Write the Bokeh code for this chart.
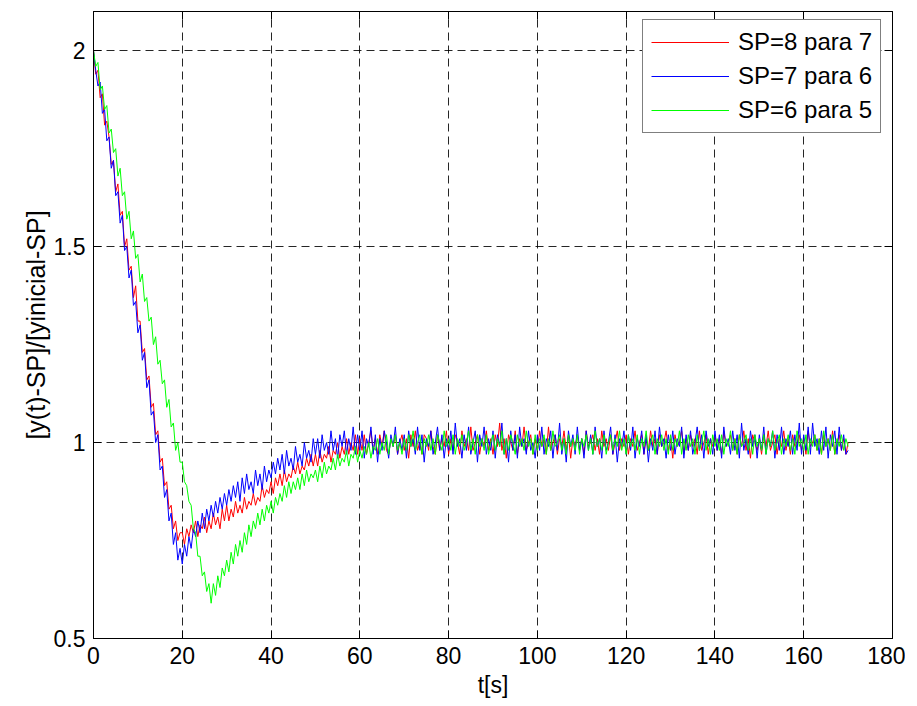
from bokeh.plotting import figure
from bokeh.models import Range1d, FixedTicker, LinearAxis, Legend, LegendItem
from bokeh.embed import file_html
from bokeh.resources import INLINE

# time axis [s], sampled every 0.5 s from 0 to 170
t = [i * 0.5 for i in range(341)]

# SP=8 para 7 (red) -- 20 samples per row (10 s)
sp8_7 = [
    2.00, 1.94, 1.95, 1.88, 1.89, 1.81, 1.82, 1.78, 1.71, 1.72, 1.64, 1.66, 1.58, 1.59, 1.50, 1.52, 1.44, 1.45, 1.37, 1.40,
    1.31, 1.31, 1.23, 1.24, 1.16, 1.17, 1.09, 1.10, 1.02, 1.03, 0.95, 0.96, 0.89, 0.90, 0.83, 0.84, 0.78, 0.80, 0.75, 0.77,
    0.77, 0.74, 0.78, 0.76, 0.79, 0.77, 0.80, 0.76, 0.79, 0.78, 0.81, 0.77, 0.80, 0.78, 0.82, 0.79, 0.81, 0.78, 0.83, 0.80,
    0.84, 0.80, 0.83, 0.81, 0.85, 0.82, 0.84, 0.82, 0.86, 0.83, 0.85, 0.84, 0.87, 0.84, 0.86, 0.85, 0.89, 0.86, 0.88, 0.87,
    0.90, 0.87, 0.91, 0.89, 0.92, 0.89, 0.93, 0.90, 0.92, 0.91, 0.94, 0.92, 0.95, 0.92, 0.94, 0.93, 0.96, 0.94, 0.97, 0.94,
    0.97, 0.94, 0.98, 0.95, 0.97, 0.96, 0.99, 0.95, 0.98, 0.97, 1.00, 0.96, 0.99, 0.97, 1.01, 0.97, 1.00, 0.98, 1.02, 0.97,
    1.01, 0.98, 1.02, 0.97, 1.00, 1.03, 0.98, 1.01, 0.97, 1.02, 0.99, 1.03, 0.98, 0.97, 1.01, 0.99, 1.02, 0.97, 1.00, 1.02,
    0.98, 1.01, 0.96, 1.02, 0.99, 1.03, 0.98, 1.00, 0.97, 1.02, 1.01, 0.98, 1.03, 0.99, 0.97, 1.02, 0.98, 1.01, 0.99, 1.03,
    0.97, 1.01, 0.98, 1.02, 1.00, 0.97, 1.03, 0.99, 1.01, 0.98, 1.04, 0.98, 1.00, 1.02, 0.97, 1.01, 0.99, 1.03, 0.98, 1.01,
    0.97, 1.02, 0.99, 1.05, 0.98, 1.01, 0.96, 1.02, 1.00, 0.98, 1.03, 0.97, 1.01, 0.99, 1.04, 0.98, 1.00, 1.02, 0.97, 1.01,
    0.98, 1.03, 0.99, 1.01, 0.97, 1.04, 0.98, 1.00, 1.02, 0.97, 1.01, 0.99, 1.03, 0.98, 1.02, 0.96, 1.01, 0.99, 1.02, 0.98,
    1.01, 0.97, 1.03, 0.99, 1.00, 1.02, 0.98, 1.01, 0.97, 1.03, 0.99, 1.01, 0.98, 1.02, 0.97, 1.00, 1.03, 0.98, 1.01, 0.99,
    1.02, 0.97, 1.01, 0.99, 1.03, 0.98, 1.00, 1.02, 0.97, 1.01, 0.98, 1.03, 0.99, 1.01, 0.97, 1.02, 0.99, 1.00, 1.03, 0.98,
    1.01, 0.96, 1.02, 0.99, 1.00, 1.03, 0.97, 1.01, 0.98, 1.02, 0.99, 1.01, 0.97, 1.03, 0.98, 1.00, 1.02, 0.97, 1.01, 0.99,
    1.02, 0.98, 1.01, 0.97, 1.03, 0.99, 1.00, 1.02, 0.98, 1.01, 0.97, 1.02, 0.99, 1.03, 0.98, 1.01, 0.96, 1.02, 1.00, 0.98,
    1.01, 0.97, 1.02, 0.99, 1.03, 0.98, 1.00, 1.02, 0.97, 1.01, 0.99, 1.03, 0.98, 1.01, 0.97, 1.02, 0.99, 1.00, 1.02, 0.98,
    1.01, 0.97, 1.03, 0.99, 1.00, 1.02, 0.98, 1.01, 0.97, 1.02, 0.99, 1.01, 0.98, 1.03, 0.97, 1.00, 1.02, 0.98, 1.01, 0.97,
    1.00,
]

# SP=7 para 6 (blue)
sp7_6 = [
    2.00, 1.95, 1.91, 1.92, 1.84, 1.85, 1.77, 1.78, 1.70, 1.72, 1.63, 1.64, 1.56, 1.58, 1.49, 1.50, 1.42, 1.44, 1.35, 1.36,
    1.28, 1.30, 1.21, 1.23, 1.14, 1.16, 1.07, 1.08, 1.00, 1.02, 0.93, 0.94, 0.86, 0.88, 0.80, 0.82, 0.74, 0.77, 0.70, 0.73,
    0.69, 0.74, 0.71, 0.76, 0.73, 0.78, 0.76, 0.80, 0.77, 0.82, 0.78, 0.83, 0.80, 0.84, 0.81, 0.85, 0.82, 0.86, 0.83, 0.87,
    0.84, 0.88, 0.85, 0.89, 0.86, 0.90, 0.85, 0.91, 0.87, 0.92, 0.88, 0.90, 0.87, 0.93, 0.89, 0.92, 0.88, 0.94, 0.90, 0.93,
    0.91, 0.95, 0.92, 0.96, 0.93, 0.97, 0.92, 0.98, 0.94, 0.96, 0.93, 0.99, 0.95, 0.97, 0.94, 1.00, 0.96, 0.98, 0.95, 1.01,
    0.97, 1.01, 0.96, 1.02, 0.98, 1.00, 0.97, 1.03, 0.98, 1.01, 0.96, 1.02, 0.99, 1.03, 0.97, 1.01, 0.98, 1.04, 0.97, 1.02,
    0.98, 1.03, 0.96, 1.01, 0.99, 1.04, 0.97, 1.02, 0.95, 1.01, 0.98, 1.03, 1.00, 0.96, 1.02, 0.99, 1.04, 0.97, 1.01, 0.98,
    1.02, 0.96, 1.03, 0.99, 1.01, 0.97, 1.04, 0.98, 1.02, 0.95, 1.01, 0.99, 1.03, 0.97, 1.00, 1.04, 0.98, 1.02, 0.96, 1.01,
    0.98, 1.03, 0.97, 1.05, 0.99, 1.01, 0.96, 1.02, 0.98, 1.04, 0.97, 1.00, 1.03, 0.95, 1.02, 0.99, 1.04, 0.97, 1.01, 0.98,
    1.03, 0.96, 1.02, 0.99, 1.05, 0.97, 1.01, 0.95, 1.03, 0.98, 1.02, 0.96, 1.04, 0.99, 1.01, 0.97, 1.03, 0.98, 1.00, 0.96,
    1.02, 0.98, 1.04, 0.97, 1.01, 0.99, 1.03, 0.96, 1.02, 0.98, 1.05, 0.97, 1.01, 0.95, 1.03, 0.99, 1.02, 0.97, 1.04, 0.98,
    1.01, 0.96, 1.03, 0.98, 1.02, 0.97, 1.04, 0.99, 1.01, 0.96, 1.03, 0.98, 1.00, 1.04, 0.97, 1.02, 0.95, 1.01, 0.99, 1.03,
    0.97, 1.02, 0.98, 1.04, 0.96, 1.01, 0.99, 1.03, 0.97, 1.02, 0.95, 1.01, 0.98, 1.03, 0.97, 1.04, 0.99, 1.01, 0.96, 1.02,
    0.98, 1.03, 0.97, 1.01, 0.99, 1.04, 0.96, 1.02, 0.98, 1.03, 0.97, 1.00, 1.04, 0.98, 1.02, 0.96, 1.03, 0.99, 1.01, 0.97,
    1.03, 0.98, 1.02, 0.96, 1.04, 0.99, 1.01, 0.97, 1.03, 0.98, 1.02, 0.96, 1.05, 0.98, 1.01, 0.97, 1.03, 0.99, 1.02, 0.96,
    1.02, 0.98, 1.04, 0.97, 1.01, 0.99, 1.03, 0.96, 1.02, 0.98, 1.04, 0.97, 1.01, 0.99, 1.03, 0.97, 1.02, 0.98, 1.05, 0.97,
    1.02, 0.98, 1.04, 0.97, 1.05, 0.99, 1.01, 0.97, 1.03, 0.98, 1.04, 0.96, 1.02, 0.99, 1.03, 0.97, 1.04, 0.98, 1.02, 0.97,
    0.98,
]

# SP=6 para 5 (green)
sp6_5 = [
    2.00, 1.96, 1.97, 1.90, 1.91, 1.85, 1.86, 1.79, 1.80, 1.74, 1.75, 1.68, 1.70, 1.63, 1.64, 1.57, 1.59, 1.52, 1.54, 1.47,
    1.48, 1.41, 1.43, 1.36, 1.37, 1.31, 1.32, 1.25, 1.27, 1.20, 1.21, 1.15, 1.16, 1.09, 1.11, 1.04, 1.05, 0.98, 1.00, 0.95,
    0.95, 0.90, 0.89, 0.85, 0.84, 0.78, 0.77, 0.71, 0.71, 0.66, 0.67, 0.62, 0.64, 0.59, 0.64, 0.61, 0.66, 0.63, 0.68, 0.66,
    0.70, 0.67, 0.72, 0.69, 0.74, 0.71, 0.75, 0.72, 0.77, 0.74, 0.79, 0.76, 0.80, 0.78, 0.82, 0.79, 0.83, 0.80, 0.84, 0.82,
    0.85, 0.82, 0.86, 0.84, 0.87, 0.85, 0.89, 0.86, 0.90, 0.87, 0.90, 0.88, 0.91, 0.88, 0.92, 0.89, 0.93, 0.90, 0.92, 0.91,
    0.93, 0.90, 0.94, 0.91, 0.95, 0.92, 0.94, 0.93, 0.96, 0.93, 0.97, 0.94, 0.96, 0.95, 0.98, 0.94, 0.97, 0.96, 0.99, 0.95,
    0.98, 0.96, 0.99, 0.97, 1.00, 0.96, 0.99, 0.98, 1.01, 0.97, 1.00, 0.98, 1.02, 0.97, 1.01, 0.99, 1.02, 0.98, 1.00, 0.97,
    1.01, 0.98, 1.02, 0.99, 1.03, 0.98, 1.00, 1.02, 0.97, 1.01, 0.99, 1.02, 0.98, 1.01, 0.97, 1.02, 1.00, 0.98, 1.03, 0.99,
    1.01, 0.98, 1.02, 0.97, 1.01, 0.99, 1.02, 0.98, 1.00, 1.03, 0.98, 1.01, 0.97, 1.02, 0.99, 1.01, 0.98, 1.02, 0.97, 1.00,
    1.02, 0.98, 1.01, 0.99, 1.03, 0.97, 1.01, 0.98, 1.02, 1.00, 0.97, 1.02, 0.99, 1.01, 0.98, 1.03, 0.99, 1.01, 0.97, 1.02,
    0.98, 1.01, 0.99, 1.02, 0.97, 1.01, 0.98, 1.03, 0.99, 1.00, 1.02, 0.98, 1.01, 0.97, 1.02, 0.99, 1.01, 0.98, 1.02, 0.97,
    1.01, 0.99, 1.02, 0.98, 1.01, 0.97, 1.03, 0.99, 1.01, 0.98, 1.02, 0.97, 1.00, 1.02, 0.98, 1.01, 0.99, 1.03, 0.98, 1.01,
    0.97, 1.02, 0.99, 1.01, 0.98, 1.02, 0.97, 1.01, 0.99, 1.03, 0.98, 1.00, 1.02, 0.97, 1.01, 0.99, 1.02, 0.98, 1.01, 0.97,
    1.02, 0.98, 1.01, 0.99, 1.03, 0.97, 1.01, 0.98, 1.02, 0.99, 1.01, 0.97, 1.02, 0.98, 1.00, 1.03, 0.98, 1.01, 0.97, 1.02,
    0.99, 1.01, 0.98, 1.02, 0.97, 1.01, 0.99, 1.03, 0.98, 1.01, 0.97, 1.02, 0.99, 1.00, 1.02, 0.98, 1.01, 0.97, 1.02, 0.99,
    1.01, 0.98, 1.02, 0.97, 1.01, 0.99, 1.03, 0.98, 1.00, 1.02, 0.97, 1.01, 0.99, 1.02, 0.98, 1.01, 0.97, 1.03, 0.99, 1.01,
    0.98, 1.02, 0.97, 1.01, 0.99, 1.02, 0.98, 1.01, 0.97, 1.03, 0.99, 1.01, 0.98, 1.02, 0.97, 1.01, 0.99, 1.02, 0.98, 1.01,
    0.99,
]

series_labels = ["SP=8 para 7", "SP=7 para 6", "SP=6 para 5"]
series_colors = ["#FF0000", "#0000FF", "#00FF00"]
x_ticks = [0, 20, 40, 60, 80, 100, 120, 140, 160, 180]
y_ticks = [0.5, 1.0, 1.5, 2.0]

FONT = "Liberation Sans"

p = figure(
    width=905, height=700,
    x_range=Range1d(0, 180), y_range=Range1d(0.5, 2.1),
    output_backend="svg", toolbar_location=None,
    min_border_left=93, min_border_right=13,
    min_border_top=11, min_border_bottom=60,
    background_fill_color="white", border_fill_color="white",
)
p.outline_line_color = "black"
p.outline_line_width = 1

renderers = []
for ys, col in zip([sp8_7, sp7_6, sp6_5], series_colors):
    r = p.line(t, ys, line_color=col, line_width=1)
    renderers.append(r)

def style_axis(ax, ticks, show_labels=True):
    ax.ticker = FixedTicker(ticks=ticks)
    ax.axis_line_color = "black"
    ax.major_tick_line_color = "black"
    ax.major_tick_in = 8
    ax.major_tick_out = 0
    ax.minor_tick_in = 0
    ax.minor_tick_out = 0
    ax.minor_tick_line_color = None
    ax.major_label_text_font = FONT
    if show_labels:
        ax.major_label_text_font_size = "23px"
        ax.major_label_text_color = "black"
    else:
        ax.major_label_text_font_size = "1px"
        ax.major_label_text_color = None
        ax.major_label_standoff = 0

style_axis(p.xaxis[0], x_ticks)
style_axis(p.yaxis[0], y_ticks)
p.xaxis[0].major_label_standoff = 8
p.yaxis[0].major_label_standoff = 8

p.xaxis[0].axis_label = "t[s]"
p.yaxis[0].axis_label = "[y(t)-SP]/[yinicial-SP]"
for ax, sz, so in [(p.xaxis[0], "23px", 5), (p.yaxis[0], "25px", 1)]:
    ax.axis_label_text_font = FONT
    ax.axis_label_text_font_size = sz
    ax.axis_label_text_font_style = "normal"
    ax.axis_label_text_color = "black"
    ax.axis_label_standoff = so

top_ax = LinearAxis()
style_axis(top_ax, x_ticks, show_labels=False)
p.add_layout(top_ax, "above")
right_ax = LinearAxis()
style_axis(right_ax, y_ticks, show_labels=False)
p.add_layout(right_ax, "right")

p.xgrid.ticker = FixedTicker(ticks=x_ticks)
p.ygrid.ticker = FixedTicker(ticks=y_ticks)
for g in (p.xgrid, p.ygrid):
    g.grid_line_color = "black"
    g.grid_line_alpha = 0.85
    g.grid_line_dash = "8 5"
    g.grid_line_width = 1

legend = Legend(
    items=[LegendItem(label=lab, renderers=[r]) for lab, r in zip(series_labels, renderers)],
    location=(549, 505),
    label_text_font=FONT, label_text_font_size="24px", label_text_color="black",
    glyph_width=78, glyph_height=28, label_height=28, label_standoff=9,
    spacing=6, padding=8, margin=0,
    border_line_color="black", border_line_width=1,
    background_fill_color="white", background_fill_alpha=1.0,
)
p.add_layout(legend)

open("out.html", "w").write(file_html(p, INLINE))
